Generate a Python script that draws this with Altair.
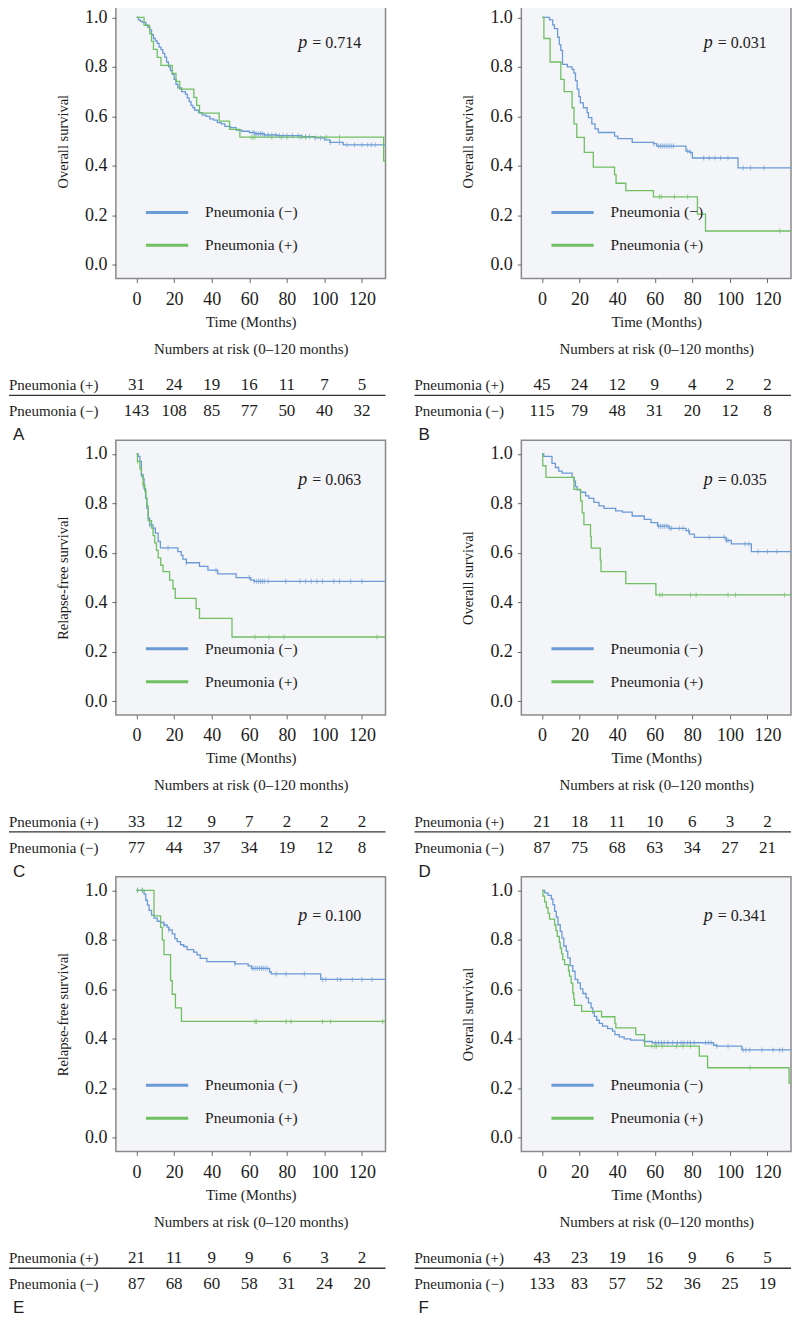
import altair as alt
import pandas as pd

# ---------------- data ----------------
NEG = "Pneumonia (\u2212)"
POS = "Pneumonia (+)"
RISK_T = [0, 20, 40, 60, 80, 100, 120]
RISK_ROWS = [POS, NEG]

# Panel A
A_neg_t = [1, 2, 3, 5, 6, 7, 8, 9, 10, 11, 12, 13, 14, 15, 16, 17, 18, 19, 20, 21, 22, 24, 26, 27, 28, 29, 30, 31, 33, 35, 37, 39, 41, 43, 45, 47, 50, 53, 56, 60, 63, 68, 75, 88, 95, 100, 103, 110]
A_neg_s = [0.99, 0.985, 0.98, 0.97, 0.96, 0.95, 0.93, 0.915, 0.905, 0.895, 0.88, 0.87, 0.855, 0.84, 0.82, 0.80, 0.785, 0.77, 0.75, 0.73, 0.715, 0.70, 0.69, 0.675, 0.66, 0.645, 0.635, 0.625, 0.615, 0.605, 0.60, 0.59, 0.585, 0.575, 0.57, 0.56, 0.555, 0.545, 0.54, 0.535, 0.53, 0.525, 0.522, 0.518, 0.513, 0.505, 0.495, 0.485]
A_pos_t = [4, 7, 8, 9, 11, 13, 19, 21, 23, 30.5, 32, 33.5, 44, 49.5, 55, 131.5]
A_pos_s = [0.968, 0.935, 0.903, 0.871, 0.839, 0.806, 0.774, 0.742, 0.71, 0.677, 0.645, 0.613, 0.581, 0.548, 0.516, 0.42]
A_neg_c = [62, 63, 64, 65, 66, 67, 68, 70, 72, 74, 76, 78, 80, 83, 86, 88, 90, 92, 95, 98, 103, 108, 112, 116, 120, 123, 125, 127]
A_pos_c = [61, 62, 63, 72, 77, 80, 87, 90, 101, 108]
A_risk_pos = [31, 24, 19, 16, 11, 7, 5]
A_risk_neg = [143, 108, 85, 77, 50, 40, 32]

# Panel B
B_neg_t = [4, 5.7, 6.6, 8.3, 9.2, 10, 10.9, 13.5, 16, 17, 17.8, 18.7, 19.6, 20.4, 22, 24, 24.7, 26.5, 28.2, 30, 38.6, 40.3, 48, 59.3, 61, 76.6, 78.4, 80, 104.3]
B_neg_s = [0.99, 0.97, 0.955, 0.92, 0.89, 0.867, 0.81, 0.80, 0.79, 0.775, 0.745, 0.71, 0.68, 0.655, 0.635, 0.615, 0.595, 0.57, 0.55, 0.535, 0.52, 0.51, 0.495, 0.49, 0.48, 0.46, 0.455, 0.432, 0.392]
B_pos_t = [1, 4.3, 10, 11.8, 16, 17, 18.5, 22.5, 27.3, 38.6, 39.4, 44.6, 59.3, 82.7, 87]
B_pos_s = [0.915, 0.82, 0.75, 0.70, 0.635, 0.57, 0.515, 0.455, 0.395, 0.365, 0.33, 0.30, 0.275, 0.205, 0.137]
B_neg_c = [59.5, 62, 63, 64, 65, 66, 67, 68, 69, 70, 77.5, 79, 86, 89, 92, 95, 99, 107, 111, 118]
B_pos_c = [62.5, 63.5, 70.5, 77.5, 126.5]
B_risk_pos = [45, 24, 12, 9, 4, 2, 2]
B_risk_neg = [115, 79, 48, 31, 20, 12, 8]

# Panel C
C_neg_t = [0.9, 1.8, 2.6, 3.5, 4, 4.8, 5.5, 6.2, 7, 8.8, 10, 11.5, 12.7, 22, 23.8, 24.7, 26.5, 33.5, 38, 43.2, 53, 60.8, 62.6]
C_neg_s = [0.99, 0.97, 0.916, 0.90, 0.86, 0.82, 0.78, 0.74, 0.713, 0.70, 0.68, 0.646, 0.62, 0.605, 0.59, 0.575, 0.56, 0.545, 0.53, 0.515, 0.50, 0.49, 0.485]
C_pos_t = [0.5, 1.8, 2.6, 3.5, 4.4, 5, 5.5, 6.2, 8, 8.8, 9.7, 10.6, 11.5, 12.9, 14.1, 17.6, 19.4, 20.6, 31.7, 33.5, 50.8]
C_pos_s = [0.97, 0.94, 0.91, 0.876, 0.85, 0.82, 0.79, 0.73, 0.70, 0.67, 0.64, 0.61, 0.58, 0.55, 0.524, 0.49, 0.455, 0.416, 0.375, 0.335, 0.26]
C_neg_c = [2.6, 7, 16.8, 26.5, 42.3, 60, 62.6, 64, 65, 66, 67, 68, 70, 79.4, 87, 90, 93, 96, 99, 105, 108, 114, 120]
C_pos_c = [0.5, 3.5, 63, 70.5, 78.5, 128]
C_risk_pos = [33, 12, 9, 7, 2, 2, 2]
C_risk_neg = [77, 44, 37, 34, 19, 12, 8]

# Panel D
D_neg_t = [0.9, 5.3, 7.1, 8.9, 10.7, 16, 17, 17.8, 18.7, 20.5, 23.2, 25, 27.6, 30.3, 33, 39.2, 42.8, 48, 54.4, 58, 61.5, 67.7, 76.6, 78.4, 81.1, 98, 100.7, 111.4]
D_neg_s = [0.99, 0.962, 0.945, 0.93, 0.922, 0.905, 0.89, 0.868, 0.855, 0.845, 0.83, 0.82, 0.804, 0.79, 0.78, 0.77, 0.765, 0.749, 0.735, 0.722, 0.708, 0.699, 0.69, 0.676, 0.663, 0.65, 0.636, 0.605]
D_pos_t = [0.4, 2.1, 17, 20.5, 21.4, 22.3, 25.8, 26.2, 31, 31.4, 44.6, 60.6]
D_pos_s = [0.952, 0.905, 0.857, 0.81, 0.762, 0.714, 0.667, 0.619, 0.571, 0.524, 0.476, 0.43]
D_neg_c = [62, 63, 64, 65, 66, 67, 68, 69, 73, 75, 78, 89, 97, 98, 99, 108, 110, 115, 120, 125]
D_pos_c = [62.7, 64, 79, 82, 99, 103, 129]
D_risk_pos = [21, 18, 11, 10, 6, 3, 2]
D_risk_neg = [87, 75, 68, 63, 34, 27, 21]

# Panel E
E_neg_t = [4, 4.9, 5.8, 6.7, 8, 9.3, 11, 12.8, 14.6, 16.3, 17.2, 19, 20.4, 21.6, 23.4, 25.1, 26.9, 30.4, 32.2, 33.9, 37.4, 52.4, 59.4, 61.2, 70.8, 71.7, 98]
E_neg_s = [0.985, 0.96, 0.94, 0.919, 0.90, 0.888, 0.875, 0.87, 0.86, 0.851, 0.84, 0.824, 0.805, 0.793, 0.78, 0.773, 0.76, 0.75, 0.739, 0.725, 0.712, 0.703, 0.695, 0.685, 0.67, 0.662, 0.64]
E_pos_t = [9.3, 12.8, 13.7, 14.6, 18.1, 19, 20.7, 23.9]
E_pos_s = [0.897, 0.85, 0.80, 0.74, 0.635, 0.58, 0.525, 0.47]
E_neg_c = [0.5, 3, 14.6, 17.2, 52.4, 61.5, 62.5, 63.5, 64.5, 65.5, 66.5, 67.5, 68.5, 69.5, 74.3, 79.6, 89.3, 99, 100.7, 106.9, 108.6, 114.8, 120, 125.3]
E_pos_c = [0.5, 3.2, 63, 63.8, 79.6, 82.2, 99, 103.3, 131]
E_risk_pos = [21, 11, 9, 9, 6, 3, 2]
E_risk_neg = [87, 68, 60, 58, 31, 24, 20]

# Panel F
F_neg_t = [1.4, 3.2, 4.9, 5.8, 6.7, 7.6, 8.5, 9.7, 10.6, 11.6, 12.9, 13.7, 15, 16.4, 17.6, 19, 20.4, 21.7, 23.4, 24.7, 26.1, 27, 27.8, 29.1, 30.5, 32.2, 34.9, 37.5, 38.8, 41.1, 43.7, 47.2, 54.3, 58.7, 91.3, 93, 106.3]
F_neg_s = [0.99, 0.98, 0.965, 0.942, 0.915, 0.892, 0.861, 0.834, 0.807, 0.775, 0.754, 0.727, 0.696, 0.673, 0.64, 0.626, 0.602, 0.583, 0.565, 0.545, 0.525, 0.505, 0.491, 0.475, 0.462, 0.451, 0.441, 0.431, 0.417, 0.408, 0.40, 0.395, 0.389, 0.384, 0.374, 0.37, 0.355]
F_pos_t = [0.5, 1.4, 2.3, 3.2, 4, 6.7, 7.4, 8.1, 9.2, 9.7, 10.4, 11, 12, 14.1, 14.6, 15.5, 16.4, 16.9, 17.3, 21.1, 31.7, 38.8, 39.3, 49.9, 54.6, 83.7, 88.1, 131.5]
F_pos_s = [0.977, 0.953, 0.93, 0.907, 0.884, 0.86, 0.837, 0.814, 0.79, 0.767, 0.744, 0.72, 0.70, 0.675, 0.653, 0.625, 0.585, 0.56, 0.535, 0.511, 0.489, 0.462, 0.444, 0.417, 0.37, 0.33, 0.283, 0.22]
F_neg_c = [60.5, 62, 63.5, 65, 67, 69.5, 72, 74, 75.5, 77.5, 79, 81, 87, 88.5, 90, 93, 99, 107, 108.5, 110.5, 117, 123, 126.5, 128]
F_pos_c = [58.5, 60, 61, 64, 71.5, 75, 79, 110.7]
F_risk_pos = [43, 23, 19, 16, 9, 6, 5]
F_risk_neg = [133, 83, 57, 52, 36, 25, 19]

LETTERS = ["A", "B", "C", "D", "E", "F"]
P_VALUES = ["0.714", "0.031", "0.063", "0.035", "0.100", "0.341"]
Y_TITLES = ["Overall survival", "Overall survival", "Relapse-free survival",
            "Overall survival", "Relapse-free survival", "Overall survival"]

PANELS = [
    (A_neg_t, A_neg_s, A_pos_t, A_pos_s, A_neg_c, A_pos_c, A_risk_pos, A_risk_neg),
    (B_neg_t, B_neg_s, B_pos_t, B_pos_s, B_neg_c, B_pos_c, B_risk_pos, B_risk_neg),
    (C_neg_t, C_neg_s, C_pos_t, C_pos_s, C_neg_c, C_pos_c, C_risk_pos, C_risk_neg),
    (D_neg_t, D_neg_s, D_pos_t, D_pos_s, D_neg_c, D_pos_c, D_risk_pos, D_risk_neg),
    (E_neg_t, E_neg_s, E_pos_t, E_pos_s, E_neg_c, E_pos_c, E_risk_pos, E_risk_neg),
    (F_neg_t, F_neg_s, F_pos_t, F_pos_s, F_neg_c, F_pos_c, F_risk_pos, F_risk_neg),
]

# ---------------- style / layout ----------------
SERIF = "Liberation Serif"
SANS = "Liberation Sans"
TXT = "#1c1c1c"
BLUE = "#6b9bd6"
GREEN = "#6fbf63"
BG = "#f4f5f8"
FRAME = "#8a8a8a"
W, H = 270, 275          # plot area of each survival panel
COL_GAP = 136            # gap between the two panel columns
LEFT = 107               # risk-table labels start this far left of the frame
TAB_H = 162              # height of the risk-table cell under each panel
ROW_PX = 26              # distance between the two risk rows
ROW1_PX = 107            # first risk row below the panel frame
XD = [-11, 132.5]
YD = [-0.055, 1.055]
X_END = 135.0
LEG_X, LEG_X2, LEG_TX = 5, 27.5, 36.5
LEG_Y = {NEG: 0.212, POS: 0.079}
P_X, P_EQ_X, P_Y = 88.5, 93.5, 0.895

xs = alt.Scale(domain=XD, nice=False, zero=False)
ys = alt.Scale(domain=YD, nice=False, zero=False)
col = alt.Scale(domain=[NEG, POS], range=[BLUE, GREEN])
# table y scale: row value 1 -> ROW1_PX from top, 0 -> ROW1_PX + ROW_PX
TY_TOP = 1 + ROW1_PX / ROW_PX
TY_BOT = -(TAB_H - ROW1_PX - ROW_PX) / ROW_PX
RULE_Y = 1 - 10 / ROW_PX
LETTER_Y = 1 - 50 / ROW_PX


def step_frame(t, s, g):
    return pd.DataFrame({"t": [0.0] + list(t) + [X_END],
                         "s": [1.0] + list(s) + [s[-1]], "g": g})


def surv_at(t, s, c):
    y = 1.0
    for tt, ss in zip(t, s):
        if tt <= c:
            y = ss
    return y


def km_chart(i):
    nt, ns, pt, ps, nc, pc, _, _ = PANELS[i]
    curves = pd.concat([step_frame(nt, ns, NEG), step_frame(pt, ps, POS)], ignore_index=True)
    cens = pd.DataFrame(
        [{"t": c, "s": surv_at(nt, ns, c), "g": NEG} for c in nc]
        + [{"t": c, "s": surv_at(pt, ps, c), "g": POS} for c in pc])
    leg = pd.DataFrame({"g": [NEG, POS], "t": [LEG_X] * 2, "t2": [LEG_X2] * 2,
                        "tx": [LEG_TX] * 2, "s": [LEG_Y[NEG], LEG_Y[POS]]})
    ptxt = pd.DataFrame({"t": [P_X], "t2": [P_EQ_X], "s": [P_Y],
                         "a": ["p"], "b": ["= " + P_VALUES[i]]})

    xaxis = alt.Axis(values=RISK_T, title=["Time (Months)", "Numbers at risk (0\u2013120 months)"],
                     domain=False, grid=False, ticks=True, tickSize=4, tickColor="#666",
                     labelFont=SERIF, labelFontSize=18, labelColor=TXT, labelPadding=8,
                     labelFlush=False, titleFont=SERIF, titleFontSize=15, titleColor=TXT,
                     titleFontWeight="normal", titlePadding=6, titleLineHeight=27)
    yaxis = alt.Axis(values=[0, 0.2, 0.4, 0.6, 0.8, 1.0], format=".1f", title=Y_TITLES[i],
                     domain=False, grid=False, ticks=True, tickSize=4, tickColor="#666",
                     labelFont=SERIF, labelFontSize=18, labelColor=TXT, labelPadding=5,
                     titleFont=SERIF, titleFontSize=14.5, titleColor=TXT,
                     titleFontWeight="normal", titlePadding=14)

    def X(f):
        return alt.X(f, type="quantitative", scale=xs, axis=xaxis)

    def Y(f):
        return alt.Y(f, type="quantitative", scale=ys, axis=yaxis)

    color = alt.Color("g:N", scale=col, legend=None)

    lines = alt.Chart(curves).mark_line(interpolate="step-after", strokeWidth=1.3, clip=True).encode(
        x=X("t"), y=Y("s"), color=color, order="t:Q")
    ticks = alt.Chart(cens).mark_tick(orient="vertical", size=5, thickness=1, clip=True).encode(
        x=X("t"), y=Y("s"), color=color)
    leg_rule = alt.Chart(leg).mark_rule(strokeWidth=3).encode(
        x=X("t"), x2="t2:Q", y=Y("s"), color=color)
    leg_text = alt.Chart(leg).mark_text(align="left", baseline="middle", font=SERIF,
                                        fontSize=15.5, color=TXT).encode(
        x=X("tx"), y=Y("s"), text="g:N")
    p_sym = alt.Chart(ptxt).mark_text(align="center", baseline="middle", font=SERIF,
                                      fontSize=18, fontStyle="italic", color=TXT).encode(
        x=X("t"), y=Y("s"), text="a:N")
    p_val = alt.Chart(ptxt).mark_text(align="left", baseline="middle", font=SERIF,
                                      fontSize=16, color=TXT).encode(
        x=X("t2"), y=Y("s"), text="b:N")
    return alt.layer(lines, ticks, leg_rule, leg_text, p_sym, p_val).properties(
        width=W, height=H, view=alt.ViewBackground(fill=BG, stroke=FRAME, strokeWidth=1.5))


def table_chart(i):
    rp, rn = PANELS[i][6], PANELS[i][7]
    df = pd.DataFrame({"t": RISK_T * 2, "row": [1] * 7 + [0] * 7, "n": rp + rn})
    rows = pd.DataFrame({"row": [1, 0], "label": RISK_ROWS})
    ty = alt.Scale(domain=[TY_BOT, TY_TOP], nice=False, zero=False)
    nums = alt.Chart(df).mark_text(font=SERIF, fontSize=17, color=TXT, baseline="middle").encode(
        x=alt.X("t:Q", scale=xs, axis=None),
        y=alt.Y("row:Q", scale=ty, axis=None),
        text="n:Q")
    labels = alt.Chart(rows).mark_text(font=SERIF, fontSize=15, color=TXT, align="left",
                                       baseline="middle").encode(
        x=alt.value(-LEFT), y=alt.Y("row:Q", scale=ty, axis=None), text="label:N")
    one = pd.DataFrame({"k": [0]})
    rule = alt.Chart(one).mark_rule(color="#333", strokeWidth=1.3).encode(
        x=alt.value(-LEFT), x2=alt.value(W), y=alt.YDatum(RULE_Y, axis=None))
    letter = alt.Chart(one).mark_text(font=SANS, fontSize=17, color=TXT, align="left",
                                      baseline="middle").encode(
        x=alt.value(-LEFT + 4), y=alt.YDatum(LETTER_Y, axis=None), text=alt.value(LETTERS[i]))
    return alt.layer(nums, labels, rule, letter).properties(
        width=W, height=TAB_H, view=alt.ViewBackground(stroke="transparent", strokeWidth=0))


cells = []
for r in range(3):
    cells += [km_chart(2 * r), km_chart(2 * r + 1), table_chart(2 * r), table_chart(2 * r + 1)]

chart = alt.concat(*cells, columns=2, bounds="flush",
                   spacing=alt.RowColnumber(row=0, column=COL_GAP)).resolve_scale(
    x="independent", y="independent").properties(
    padding={"left": 0, "top": -6, "right": 0, "bottom": 0}).configure_view(
    strokeWidth=0).configure(font=SERIF, background="white")

chart.save("out.html", embed_options={"renderer": "svg", "actions": False})
